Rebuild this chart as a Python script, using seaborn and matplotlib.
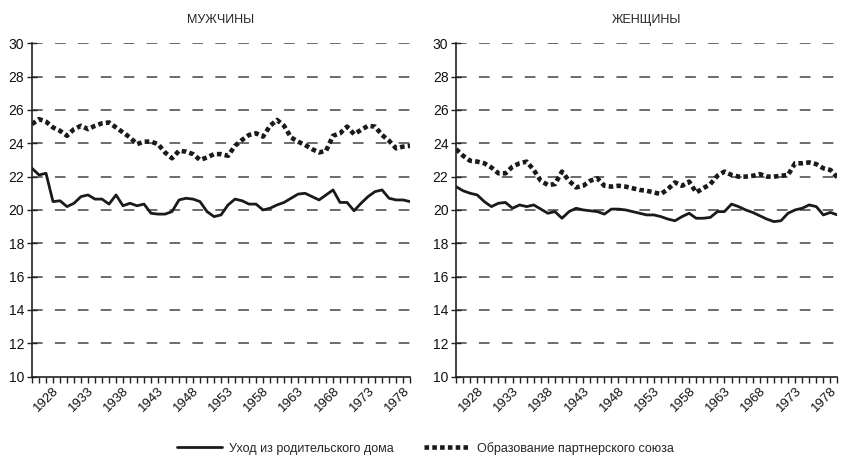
import matplotlib
matplotlib.use("Agg")
import matplotlib.pyplot as plt
import seaborn as sns
import numpy as np
import pandas as pd

# ---------------- DATA ----------------
years = list(range(1925, 1980))

men_leave = [22.5, 22.1, 22.2, 20.5, 20.55, 20.2, 20.4, 20.8, 20.9, 20.65,
             20.65, 20.35, 20.9, 20.25, 20.4, 20.25, 20.35, 19.8, 19.75, 19.75,
             19.9, 20.6, 20.7, 20.65, 20.5, 19.9, 19.6, 19.7, 20.3, 20.65,
             20.55, 20.35, 20.35, 20.0, 20.1, 20.3, 20.45, 20.7, 20.95, 21.0,
             20.8, 20.6, 20.9, 21.2, 20.45, 20.45, 19.95, 20.4, 20.8, 21.1,
             21.2, 20.7, 20.6, 20.6, 20.5]

men_union = [25.15, 25.45, 25.3, 24.95, 24.75, 24.45, 24.85, 25.05, 24.85, 25.05,
             25.2, 25.25, 24.95, 24.65, 24.35, 23.95, 24.1, 24.1, 23.95, 23.45,
             23.1, 23.55, 23.5, 23.35, 23.0, 23.15, 23.35, 23.35, 23.25, 23.85,
             24.2, 24.5, 24.6, 24.4, 25.05, 25.4, 25.05, 24.35, 24.1, 23.9,
             23.65, 23.45, 23.55, 24.45, 24.6, 25.0, 24.55, 24.8, 25.05, 25.0,
             24.5, 24.15, 23.7, 23.8, 23.85]

women_leave = [21.4, 21.15, 21.0, 20.9, 20.5, 20.2, 20.4, 20.45, 20.1, 20.3,
               20.2, 20.3, 20.05, 19.8, 19.9, 19.5, 19.9, 20.1, 20.0, 19.95,
               19.9, 19.75, 20.05, 20.05, 20.0, 19.9, 19.8, 19.7, 19.7, 19.6,
               19.45, 19.35, 19.6, 19.8, 19.5, 19.5, 19.55, 19.9, 19.9, 20.35,
               20.2, 20.0, 19.85, 19.65, 19.45, 19.3, 19.35, 19.8, 20.0, 20.1,
               20.3, 20.2, 19.7, 19.85, 19.7]

women_union = [23.65, 23.25, 22.95, 22.9, 22.8, 22.55, 22.2, 22.2, 22.6, 22.8,
               22.9, 22.4, 21.75, 21.5, 21.55, 22.3, 21.75, 21.35, 21.45, 21.75,
               21.9, 21.45, 21.4, 21.45, 21.4, 21.3, 21.2, 21.15, 21.05, 20.95,
               21.25, 21.65, 21.45, 21.7, 21.05, 21.3, 21.55, 22.05, 22.3, 22.1,
               22.0, 22.0, 22.05, 22.15, 22.0, 22.0, 22.05, 22.1, 22.8, 22.8,
               22.85, 22.75, 22.5, 22.4, 21.95]

panel_titles = ["МУЖЧИНЫ", "ЖЕНЩИНЫ"]
series_names = ["Уход из родительского дома", "Образование партнерского союза"]
label_years = list(range(1928, 1980, 5))
y_ticks = list(range(10, 31, 2))

# ---------------- STYLE ----------------
sns.set_style("white")
plt.rcParams["font.family"] = ["Liberation Sans Narrow", "Liberation Sans", "DejaVu Sans"]
plt.rcParams["font.size"] = 10

DOTS = (0, (1.0, 0.7))

fig = plt.figure(figsize=(8.42, 4.66), dpi=100)
ax_l = fig.add_axes([0.038, 0.192, 0.449, 0.715])
ax_r = fig.add_axes([0.5416, 0.192, 0.453, 0.715])

panels = [(ax_l, men_leave, men_union), (ax_r, women_leave, women_union)]

for k, (ax, leave, union) in enumerate(panels):
    df = pd.DataFrame({
        "year": years * 2,
        "age": leave + union,
        "series": [series_names[0]] * len(years) + [series_names[1]] * len(years),
    })
    sns.lineplot(data=df[df.series == series_names[0]], x="year", y="age",
                 color="#1a1a1a", linewidth=2, ax=ax,
                 label=series_names[0] if k == 0 else None)
    sns.lineplot(data=df[df.series == series_names[1]], x="year", y="age",
                 color="#1a1a1a", linewidth=3.3, ax=ax,
                 label=series_names[1] if k == 0 else None)
    ax.lines[-1].set_linestyle(DOTS)

    ax.set_xlim(years[0], years[-1])
    ax.set_ylim(10, 30)
    ax.set_yticks(y_ticks)
    ax.set_xticks(label_years)
    ax.set_xticks(years, minor=True)
    ax.set_xticklabels([str(y) for y in label_years], rotation=45,
                       ha="right", rotation_mode="anchor")
    ax.set_xlabel("")
    ax.set_ylabel("")
    ax.set_title(panel_titles[k], fontsize=9, pad=15)

    # dashed horizontal grid
    for yv in y_ticks[1:]:
        ax.axhline(yv, color="#444444", linewidth=1.1,
                   linestyle=(0, (7, 8)), zorder=0)

    for side in ["top", "right"]:
        ax.spines[side].set_visible(False)
    for side in ["left", "bottom"]:
        ax.spines[side].set_color("#222222")
        ax.spines[side].set_linewidth(1.2)

    ax.tick_params(axis="y", which="major", direction="inout", length=7,
                   width=1, colors="#222222", labelsize=10, pad=2, left=True)
    ax.tick_params(axis="x", which="both", direction="out", length=4,
                   width=1, colors="#222222", labelsize=9.5, pad=2, bottom=True)
    ax.tick_params(labelcolor="#111111")
    if ax.get_legend() is not None:
        ax.get_legend().remove()

handles, labels = ax_l.get_legend_handles_labels()
handles[1].set_linestyle(DOTS)
fig.legend(handles, labels, loc="lower center", bbox_to_anchor=(0.505, 0.0),
           ncol=2, frameon=False, handlelength=3.6, handletextpad=0.6,
           columnspacing=2.4, fontsize=9)

fig.savefig("out.png", dpi=100)
